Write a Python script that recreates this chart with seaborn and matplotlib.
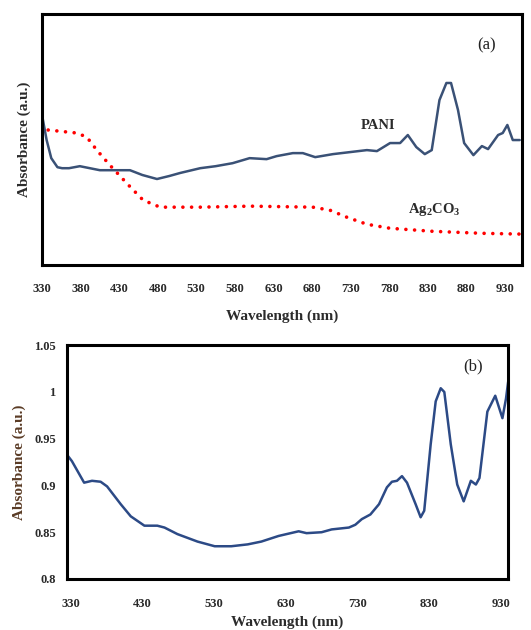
import numpy as np
import pandas as pd
import matplotlib
matplotlib.use("Agg")
import matplotlib.pyplot as plt
import seaborn as sns

# ---- Data ----
pani_nm = [330, 336, 342, 350, 356, 365, 379, 392, 405, 425, 444, 460, 479, 495, 509,
           535, 555, 577, 599, 621, 634, 655, 668, 684, 707, 729, 751, 764, 781, 794,
           804, 815, 826, 835, 845, 854, 860, 869, 877, 889, 900, 908, 921, 927, 933,
           940, 949]
pani_abs = [0.598, 0.498, 0.426, 0.390, 0.386, 0.386, 0.394, 0.386, 0.378, 0.378, 0.378,
            0.359, 0.343, 0.355, 0.367, 0.386, 0.394, 0.406, 0.426, 0.422, 0.434, 0.446,
            0.446, 0.430, 0.442, 0.450, 0.458, 0.454, 0.486, 0.486, 0.518, 0.470, 0.442,
            0.458, 0.657, 0.725, 0.725, 0.618, 0.486, 0.438, 0.474, 0.462, 0.518, 0.526,
            0.558, 0.498, 0.498]

ag_nm = [338, 375, 388, 401, 418, 442, 461, 483, 535, 600, 681, 703, 725, 751, 781, 836,
         900, 949]
ag_abs = [0.538, 0.526, 0.510, 0.458, 0.398, 0.319, 0.259, 0.231, 0.231, 0.235, 0.231,
          0.219, 0.191, 0.163, 0.147, 0.135, 0.127, 0.124]

comp_nm = [325, 332, 349, 360, 372, 381, 400, 414, 433, 451, 461, 479, 507, 531, 554, 577,
           596, 620, 648, 659, 680, 694, 718, 727, 736, 748, 760, 771, 778, 785, 792, 799,
           811, 818, 823, 832, 839, 846, 851, 860, 869, 878, 883, 888, 895, 900, 911, 922,
           932, 937, 940]
comp_abs = [0.933, 0.926, 0.903, 0.905, 0.904, 0.899, 0.880, 0.867, 0.857, 0.857, 0.855,
            0.848, 0.840, 0.835, 0.835, 0.837, 0.840, 0.846, 0.851, 0.849, 0.850, 0.853,
            0.855, 0.858, 0.864, 0.869, 0.880, 0.898, 0.904, 0.905, 0.910, 0.903, 0.880,
            0.866, 0.873, 0.944, 0.990, 1.004, 1.000, 0.944, 0.901, 0.883, 0.894, 0.905,
            0.901, 0.908, 0.979, 0.996, 0.972, 0.993, 1.011]

xticks_a = list(range(330, 931, 50))
xticks_b = list(range(330, 931, 100))
yticks_b = [0.8, 0.85, 0.9, 0.95, 1.0, 1.05]
yticklabels_b = ["0.8", "0.85", "0.9", "0.95", "1", "1.05"]

sns.set_style("white")
plt.rcParams['font.family'] = ['Liberation Serif', 'DejaVu Serif']
plt.rcParams['mathtext.fontset'] = 'custom'
plt.rcParams['mathtext.rm'] = 'Liberation Serif'
plt.rcParams['mathtext.bf'] = 'Liberation Serif:bold'

fig = plt.figure(figsize=(5.31, 6.30), dpi=100)
ax1 = fig.add_axes([0.0791, 0.579, 0.904, 0.399])
ax2 = fig.add_axes([0.126, 0.081, 0.831, 0.371])

tick_color = "#2a2a2a"
label_color_a = "#2b2b2b"
label_color_b = "#5a3b25"

# ---- Panel (a) ----
df_pani = pd.DataFrame({"nm": pani_nm, "abs": pani_abs})
df_ag = pd.DataFrame({"nm": ag_nm, "abs": ag_abs})
sns.lineplot(data=df_pani, x="nm", y="abs", ax=ax1, color="#3a5176", lw=1.8,
             sort=False, estimator=None)
sns.lineplot(data=df_ag, x="nm", y="abs", ax=ax1, color="#ff0000", lw=2.6,
             sort=False, estimator=None)
ax1.lines[-1].set_linestyle((0, (0.01, 2.4)))
ax1.lines[-1].set_dash_capstyle('round')
ax1.set_xlim(330, 952)
ax1.set_ylim(0, 1)
ax1.set_xticks(xticks_a)
ax1.set_xticklabels([str(t) for t in xticks_a])
ax1.set_yticks([])
ax1.set_xlabel("Wavelength (nm)", fontsize=11, fontweight='bold', color=label_color_a,
               labelpad=10)
ax1.set_ylabel("Absorbance (a.u.)", fontsize=11, fontweight='bold', color=label_color_a,
               labelpad=8)
ax1.text(765, 0.555, "PANI", fontsize=10.5, fontweight='bold', color="#2b2b2b",
         ha='center', va='center')
ax1.text(838, 0.222, r"Ag$_\mathbf{2}$CO$_\mathbf{3}$", fontsize=10.5, fontweight='bold',
         color="#2b2b2b", ha='center', va='center')
ax1.text(487 / 531, 1 - 45 / 630, "(a)", fontsize=12, color="#222222", ha='center',
         va='center', transform=fig.transFigure)

# ---- Panel (b) ----
df_comp = pd.DataFrame({"nm": comp_nm, "abs": comp_abs})
sns.lineplot(data=df_comp, x="nm", y="abs", ax=ax2, color="#2c4a86", lw=1.8,
             sort=False, estimator=None)
ax2.set_xlim(325, 940)
ax2.set_ylim(0.8, 1.05)
ax2.set_xticks(xticks_b)
ax2.set_xticklabels([str(t) for t in xticks_b])
ax2.set_yticks(yticks_b)
ax2.set_yticklabels(yticklabels_b)
ax2.set_xlabel("Wavelength (nm)", fontsize=11, fontweight='bold', color=label_color_a,
               labelpad=4)
ax2.set_ylabel("Absorbance (a.u.)", fontsize=11, fontweight='bold', color=label_color_b,
               labelpad=6)
ax2.text(0.92, 0.91, "(b)", fontsize=12, color="#222222", ha='center', va='center',
         transform=ax2.transAxes)

for ax in (ax1, ax2):
    for s in ax.spines.values():
        s.set_visible(True)
        s.set_color("black")
        s.set_linewidth(2.2)
    ax.tick_params(axis='both', which='both', direction='out', length=5, width=1.2,
                   colors="black", labelcolor=tick_color, labelsize=9, pad=3)
    for lab in ax.get_xticklabels() + ax.get_yticklabels():
        lab.set_fontweight('bold')
    if ax.get_legend() is not None:
        ax.get_legend().remove()
ax1.tick_params(axis='y', left=False)
ax1.tick_params(axis='x', pad=8)
ax2.tick_params(axis='x', pad=9)

fig.savefig("out.png", dpi=100, facecolor="white")
